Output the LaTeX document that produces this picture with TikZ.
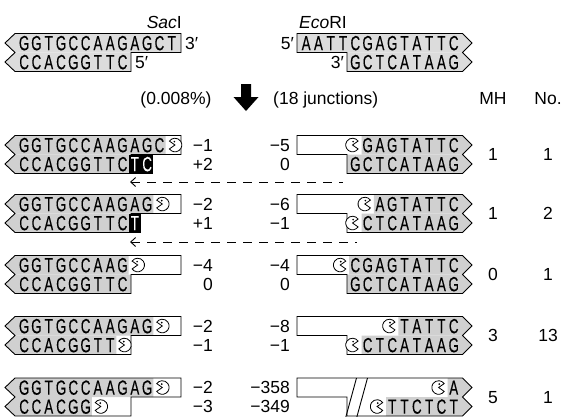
\documentclass[tikz,border=0pt]{standalone}
\usepackage{fontspec}
\setmainfont{Liberation Sans}
\newfontfamily\seqfont[FakeStretch=0.65,FakeBold=0.3]{Liberation Sans}
\usetikzlibrary{arrows.meta}
\definecolor{lg}{HTML}{DCDCDC}
\definecolor{dg}{HTML}{D0D0D0}
\newcommand\labfont{\fontsize{17.5}{17.5}\selectfont}
\newcommand\sqfont{\seqfont\fontsize{20.5}{20.5}\selectfont}
% sequence: [opts]{prefix}{x0}{startcell}{ycenter}{letters}
\newcommand\seq[6][]{\foreach \c [count=\i from #4] in {#6} {\node[nt,#1] (#2-\i) at ({#3+(\i+0.5)*12.3},{#5+7.2}) {\c};}}
% gray strand fills
\newcommand\grayL[3][dg]{\fill[#1] (15,#2-9.5) -- (#3,#2-9.5) -- (#3,#2+9.5) -- (15,#2+9.5) -- (5,#2) -- cycle;}
\newcommand\grayR[3][dg]{\fill[#1] (#3,#2-9.5) -- (462.5,#2-9.5) -- (472,#2) -- (462.5,#2+9.5) -- (#3,#2+9.5) -- cycle;}
% outlines
\newcommand\outL[2]{\draw[mol] (15,#1-9.5) -- (181,#1-9.5) -- (181,#1+9.5) -- (#2,#1+9.5) -- (#2,#1+28.5) -- (15,#1+28.5) -- (5,#1+19) -- (15,#1+9.5) -- (5,#1) -- cycle;}
\newcommand\outR[1]{\draw[mol] (297,#1-9.5) -- (462.5,#1-9.5) -- (472,#1) -- (462.5,#1+9.5) -- (472,#1+19) -- (462.5,#1+28.5) -- (347,#1+28.5) -- (347,#1+9.5) -- (297,#1+9.5) -- cycle;}
% numbers: prefix, yt, left top, left bottom, right top, right bottom, MH, No
\newcommand\nums[8]{%
  \node[lab,anchor=base east] (#1-lt) at (213,#2+6) {#3};
  \node[lab,anchor=base east] (#1-lb) at (213,#2+25) {#4};
  \node[lab,anchor=base east] (#1-rt) at (290,#2+6) {#5};
  \node[lab,anchor=base east] (#1-rb) at (290,#2+25) {#6};
  \node[lab,anchor=base] (#1-mh) at (493,#2+15.5) {#7};
  \node[lab,anchor=base] (#1-no) at (548,#2+15.5) {#8};}
\begin{document}
\begin{tikzpicture}[x=1pt,y=-1pt,
  mol/.style={draw=black,line width=0.9pt,line join=miter},
  lab/.style={font=\labfont,inner sep=0pt},
  nt/.style={font=\sqfont,inner sep=0pt,anchor=base},
  wt/.style={text=white},
  pacL/.pic={\draw[fill=white,line width=0.8pt] (0,0) -- (145:6.8) arc (145:-145:6.8) -- cycle; \fill (-0.6,-3.4) circle (0.95);},
  pacR/.pic={\draw[fill=white,line width=0.8pt] (0,0) -- (35:6.8) arc (35:325:6.8) -- cycle; \fill (0.6,-3.4) circle (0.95);},
  dashline/.style={line width=0.9pt,dash pattern=on 9pt off 7pt,{Straight Barb[length=5pt,width=9pt]}-}
]
\useasboundingbox (0,0) rectangle (569,416);
\clip (0,0) rectangle (569,416);

% ---------- top: original ends ----------
\node[lab,anchor=base east] (sac) at (182,28) {\textit{Sac}I};
\node[lab,anchor=base west] (eco) at (299,28) {\textit{Eco}RI};
\grayL[lg]{43}{181}\grayL[lg]{62}{131}
\grayR[lg]{43}{297}\grayR[lg]{62}{347}
\outL{43}{131}\outR{43}
\seq{t0}{18}{0}{43}{G,G,T,G,C,C,A,A,G,A,G,C,T}
\seq{b0}{18}{0}{62}{C,C,A,C,G,G,T,T,C}
\seq{t0r}{300}{0}{43}{A,A,T,T,C,G,A,G,T,A,T,T,C}
\seq{b0r}{300}{4}{62}{G,C,T,C,A,T,A,A,G}
\node[lab,anchor=base west] (p1) at (185,49) {3′};
\node[lab,anchor=base west] (p2) at (135,68) {5′};
\node[lab,anchor=base east] (p3) at (294,49) {5′};
\node[lab,anchor=base east] (p4) at (344,68) {3′};

% header
\node[lab,anchor=base] (pct) at (176,104) {(0.008\%)};
\node[lab,anchor=base west] (jn) at (273,104) {(18 junctions)};
\node[lab,anchor=base] (mh) at (493,104) {MH};
\node[lab,anchor=base] (no) at (548,104) {No.};
\fill (241,84) -- (251,84) -- (251,97) -- (258.5,97) -- (246,111) -- (233.5,97) -- (241,97) -- cycle;

% ---------- row 1 ----------
\grayL{145}{165.6}\grayL{164}{131}
\fill[black] (128.7,154.5) rectangle (153.3,173.5);
\grayR{145}{361.5}\grayR{164}{347}
\outL{145}{131}\outR{145}
\seq{t1}{18}{0}{145}{G,G,T,G,C,C,A,A,G,A,G,C}
\seq{b1}{18}{0}{164}{C,C,A,C,G,G,T,T,C}
\seq[wt]{x1}{18}{9}{164}{T,C}
\pic at (175,145) {pacL};
\seq{t1r}{300}{5}{145}{G,A,G,T,A,T,T,C}
\seq{b1r}{300}{4}{164}{G,C,T,C,A,T,A,A,G}
\pic at (352.5,145) {pacR};
\nums{r1}{145}{−1}{+2}{−5}{0}{1}{1}
\coordinate (a1s) at (130,182); \coordinate (a1e) at (343,182);
\draw[dashline] (a1s) -- (a1e);

% ---------- row 2 ----------
\grayL{204}{153.3}\grayL{223}{131}
\fill[black] (128.7,213.5) rectangle (141,232.5);
\grayR{204}{373.8}\grayR{223}{361.5}
\outL{204}{131}\outR{204}
\seq{t2}{18}{0}{204}{G,G,T,G,C,C,A,A,G,A,G}
\seq{b2}{18}{0}{223}{C,C,A,C,G,G,T,T,C}
\seq[wt]{x2}{18}{9}{223}{T}
\pic at (162.3,204) {pacL};
\seq{t2r}{300}{6}{204}{A,G,T,A,T,T,C}
\seq{b2r}{300}{5}{223}{C,T,C,A,T,A,A,G}
\pic at (364.8,204) {pacR};
\pic at (352.5,223) {pacR};
\nums{r2}{204}{−2}{+1}{−6}{−1}{1}{2}
\coordinate (a2s) at (130,242); \coordinate (a2e) at (357,242);
\draw[dashline] (a2s) -- (a2e);

% ---------- row 3 ----------
\grayL{265}{128.7}\grayL{284}{131}
\grayR{265}{349.2}\grayR{284}{347}
\outL{265}{131}\outR{265}
\seq{t3}{18}{0}{265}{G,G,T,G,C,C,A,A,G}
\seq{b3}{18}{0}{284}{C,C,A,C,G,G,T,T,C}
\pic at (137.7,265) {pacL};
\seq{t3r}{300}{4}{265}{C,G,A,G,T,A,T,T,C}
\seq{b3r}{300}{4}{284}{G,C,T,C,A,T,A,A,G}
\pic at (340.2,265) {pacR};
\nums{r3}{265}{−4}{0}{−4}{0}{0}{1}

% ---------- row 4 ----------
\grayL{326}{153.3}\grayL{345}{116.4}
\grayR{326}{398.4}\grayR{345}{361.5}
\outL{326}{131}\outR{326}
\seq{t4}{18}{0}{326}{G,G,T,G,C,C,A,A,G,A,G}
\seq{b4}{18}{0}{345}{C,C,A,C,G,G,T,T}
\pic at (162.3,326) {pacL};
\pic at (124.4,345) {pacL};
\seq{t4r}{300}{8}{326}{T,A,T,T,C}
\seq{b4r}{300}{5}{345}{C,T,C,A,T,A,A,G}
\pic at (389.4,326) {pacR};
\pic at (352.5,345) {pacR};
\nums{r4}{326}{−2}{−1}{−8}{−1}{3}{13}

% ---------- row 5 ----------
\grayL{387.5}{153.3}\grayL{406.5}{91.8}
\grayR{387.5}{447.6}\grayR{406.5}{386.1}
\outL{387.5}{131}\outR{387.5}
\seq{t5}{18}{0}{387.5}{G,G,T,G,C,C,A,A,G,A,G}
\seq{b5}{18}{0}{406.5}{C,C,A,C,G,G}
\pic at (162.3,387.5) {pacL};
\pic at (100.8,406.5) {pacL};
\seq{t5r}{300}{12}{387.5}{A}
\seq{b5r}{300}{7}{406.5}{T,T,C,T,C,T}
\pic at (438.6,387.5) {pacR};
\pic at (377.1,406.5) {pacR};
\draw[line width=0.9pt] (345,420) -- (356.5,378);
\draw[line width=0.9pt] (356,420) -- (367.5,378);
\nums{r5}{387.5}{−2}{−3}{−358}{−349}{5}{1}
\end{tikzpicture}
\end{document}
